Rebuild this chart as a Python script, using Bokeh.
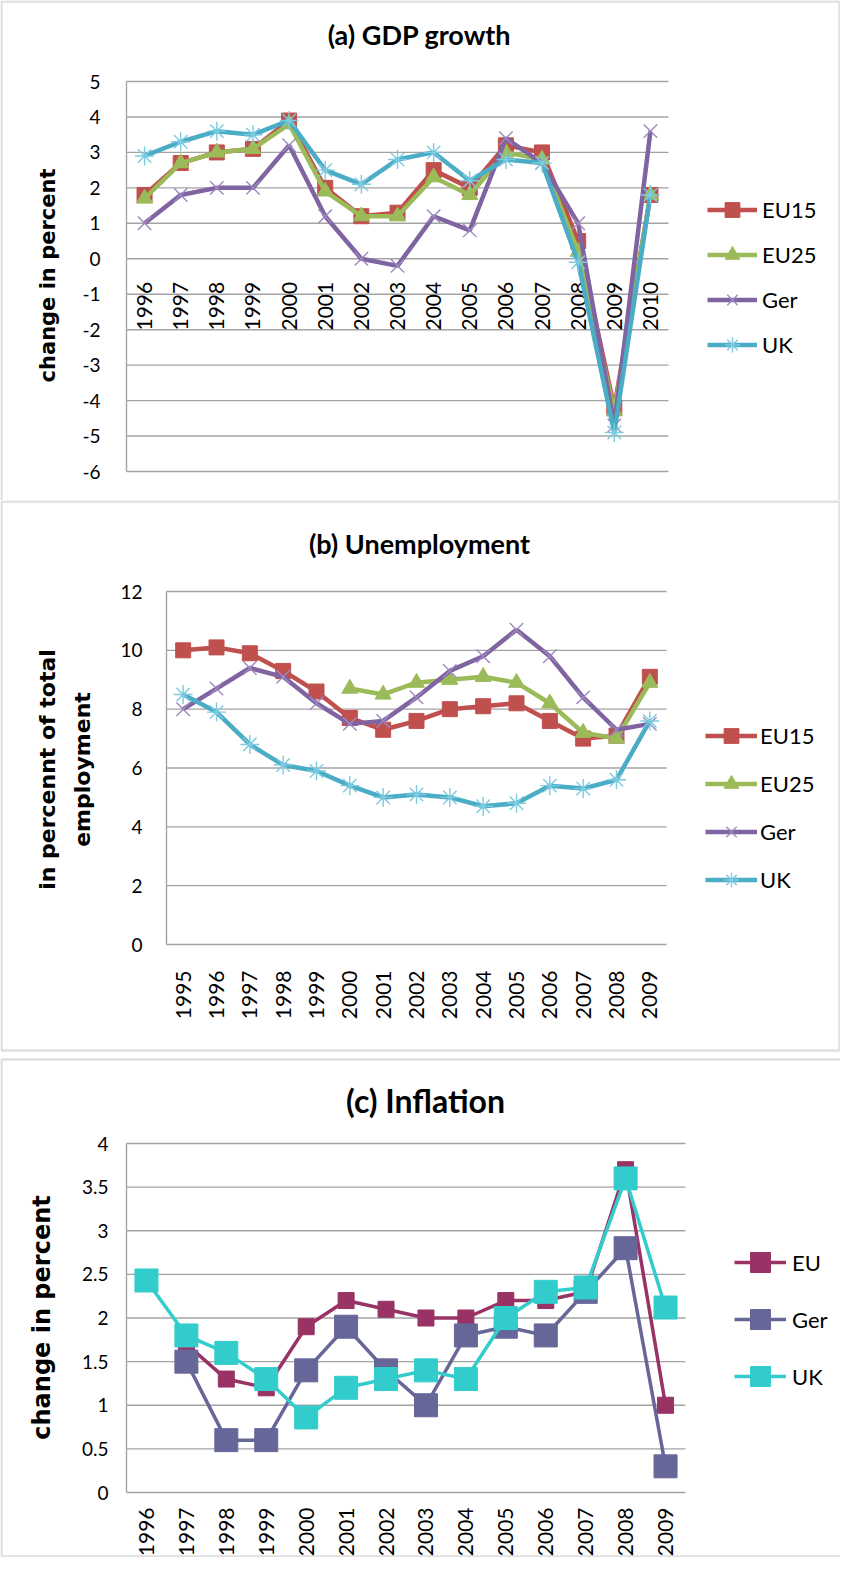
import math
from bokeh.plotting import figure
from bokeh.models import Range1d, Label, Legend, LegendItem, BoxAnnotation
from bokeh.layouts import column
from bokeh.core.properties import value
from bokeh.embed import file_html
from bokeh.resources import INLINE

nan = float("nan")

# ---------------- (a) GDP growth ----------------
gdp_years = ["1996", "1997", "1998", "1999", "2000", "2001", "2002", "2003",
             "2004", "2005", "2006", "2007", "2008", "2009", "2010"]
gdp_eu15 = [1.8, 2.7, 3.0, 3.1, 3.9, 2.0, 1.2, 1.3, 2.5, 2.0, 3.2, 3.0, 0.5, -4.2, 1.8]
gdp_eu25 = [1.7, 2.7, 3.0, 3.1, 3.8, 1.9, 1.2, 1.2, 2.3, 1.8, 3.0, 2.8, 0.2, -4.3, 1.8]
gdp_ger = [1.0, 1.8, 2.0, 2.0, 3.2, 1.2, 0.0, -0.2, 1.2, 0.8, 3.4, 2.7, 1.0, -4.7, 3.6]
gdp_uk = [2.9, 3.3, 3.6, 3.5, 3.9, 2.5, 2.1, 2.8, 3.0, 2.2, 2.8, 2.7, -0.1, -4.9, 1.8]
gdp_ticks = [-6, -5, -4, -3, -2, -1, 0, 1, 2, 3, 4, 5]
gdp_tick_labels = ["-6", "-5", "-4", "-3", "-2", "-1", "0", "1", "2", "3", "4", "5"]
gdp_axis_cross = 0

# ---------------- (b) Unemployment ----------------
un_years = ["1995", "1996", "1997", "1998", "1999", "2000", "2001", "2002",
            "2003", "2004", "2005", "2006", "2007", "2008", "2009"]
un_eu15 = [10.0, 10.1, 9.9, 9.3, 8.6, 7.7, 7.3, 7.6, 8.0, 8.1, 8.2, 7.6, 7.0, 7.1, 9.1]
un_eu25 = [nan, nan, nan, nan, nan, 8.7, 8.5, 8.9, 9.0, 9.1, 8.9, 8.2, 7.2, 7.0, 8.9]
un_ger = [8.0, 8.7, 9.4, 9.1, 8.2, 7.5, 7.6, 8.4, 9.3, 9.8, 10.7, 9.8, 8.4, 7.3, 7.5]
un_uk = [8.5, 7.9, 6.8, 6.1, 5.9, 5.4, 5.0, 5.1, 5.0, 4.7, 4.8, 5.4, 5.3, 5.6, 7.6]
un_ticks = [0, 2, 4, 6, 8, 10, 12]
un_tick_labels = ["0", "2", "4", "6", "8", "10", "12"]

# ---------------- (c) Inflation ----------------
inf_years = ["1996", "1997", "1998", "1999", "2000", "2001", "2002", "2003",
             "2004", "2005", "2006", "2007", "2008", "2009"]
inf_eu = [nan, 1.7, 1.3, 1.2, 1.9, 2.2, 2.1, 2.0, 2.0, 2.2, 2.2, 2.3, 3.7, 1.0]
inf_ger = [nan, 1.5, 0.6, 0.6, 1.4, 1.9, 1.4, 1.0, 1.8, 1.9, 1.8, 2.3, 2.8, 0.3]
inf_uk = [2.43, 1.8, 1.6, 1.3, 0.86, 1.2, 1.3, 1.4, 1.3, 2.0, 2.3, 2.35, 3.6, 2.12]
inf_ticks = [0, 0.5, 1, 1.5, 2, 2.5, 3, 3.5, 4]
inf_tick_labels = ["0", "0.5", "1", "1.5", "2", "2.5", "3", "3.5", "4"]

GRID = "#a3a3a3"
BORDER = "#999999"
FONT = "Lato"
YLAB_FONT = "DejaVu Sans"
W = 840


class Panel:
    """A figure whose frame is the whole canvas; the plot area is mapped by page geometry."""

    def __init__(self, page_y0, H, left, right, top, bottom, years, ylo, yhi):
        self.page_x0 = 8
        self.page_y0 = page_y0
        self.H = H
        self.left, self.right, self.top, self.bottom = left, right, top, bottom
        self.n = len(years)
        self.ylo, self.yhi = ylo, yhi
        self.bx = (right - left) / self.n
        self.by = (bottom - top) / (yhi - ylo)
        xr = Range1d(-(left - self.page_x0) / self.bx,
                     self.n + (self.page_x0 + W - right) / self.bx)
        yr = Range1d(ylo - (page_y0 + H - bottom) / self.by,
                     yhi + (top - page_y0) / self.by)
        p = figure(width=W, height=H, x_range=xr, y_range=yr,
                   x_axis_type=None, y_axis_type=None,
                   min_border=0, min_border_left=0, min_border_right=0,
                   min_border_top=0, min_border_bottom=0,
                   output_backend="svg", toolbar_location=None)
        p.outline_line_color = None
        p.background_fill_color = "white"
        p.border_fill_color = "white"
        self.p = p
        self.xs = [i + 0.5 for i in range(self.n)]

    def dx(self, px):
        return (px - self.left) / self.bx

    def dy(self, py):
        return self.yhi - (py - self.top) / self.by

    def grid(self, ticks, labels, standoff, size="19px"):
        p = self.p
        p.segment(x0=[0] * len(ticks), x1=[self.n] * len(ticks), y0=ticks, y1=ticks,
                  line_color=GRID, line_width=1.4)
        p.segment(x0=[0], x1=[0], y0=[self.ylo], y1=[self.yhi],
                  line_color=GRID, line_width=1.4)
        p.text(x=[0] * len(ticks), y=ticks, text=labels, x_offset=-standoff,
               text_align="right", text_baseline="middle",
               text_font=value(FONT), text_font_size=value(size), text_color="black")

    def xlabels(self, years, ycross, offset, size="21px"):
        self.p.text(x=self.xs, y=[ycross] * len(years), text=years, angle=math.pi / 2,
                    text_align="right", text_baseline="middle", y_offset=offset,
                    text_font=value(FONT), text_font_size=value(size), text_color="black")

    def label(self, px, py, text, size, font=FONT, angle=0.0, style="bold"):
        self.p.add_layout(Label(x=self.dx(px), y=self.dy(py), text=text,
                                text_align="center", text_baseline="middle", angle=angle,
                                text_font=font, text_font_style=style,
                                text_font_size=size, text_color="black"))

    def border(self, pl, pr, pt, pb):
        self.p.add_layout(BoxAnnotation(left=self.dx(pl), right=self.dx(pr),
                                        top=self.dy(pt), bottom=self.dy(pb),
                                        fill_color=None, fill_alpha=0,
                                        line_color=BORDER, line_width=2.5))

    def series(self, ys, color, marker, size, lw, mline=None, mlw=1.0):
        r1 = self.p.line(self.xs, ys, line_color=color, line_width=lw)
        r2 = self.p.scatter(self.xs, ys, marker=marker, size=size, fill_color=color,
                            line_color=mline if mline is not None else color,
                            line_width=mlw)
        return [r1, r2]

    def legend(self, items, page_left, page_bottom, gw, gh, spacing, standoff, size):
        loc = (page_left - self.page_x0, self.page_y0 + self.H - page_bottom)
        lg = Legend(items=items, location=loc, orientation="vertical",
                    glyph_width=gw, glyph_height=gh, spacing=spacing, padding=0,
                    margin=0, label_standoff=standoff, border_line_color=None,
                    background_fill_alpha=0, label_text_font=FONT,
                    label_text_font_size=size, label_text_color="black",
                    label_height=20)
        self.p.add_layout(lg)


C_EU15 = "#C0504D"
C_EU25 = "#9BBB59"
C_GER = "#8064A2"
C_UK = "#4BACC6"
M_GER = "#9D89C0"
M_UK = "#7CCBE0"

# ---------- panel (a) ----------
A = Panel(8, 500, 134, 676, 89, 479, gdp_years, -6, 5)
A.border(9, 847, 9, 515)
A.grid(gdp_ticks, gdp_tick_labels, 26)
A.xlabels(gdp_years, gdp_axis_cross, 23)
ra1 = A.series(gdp_eu15, C_EU15, "square", 15, 4.5)
ra2 = A.series(gdp_eu25, C_EU25, "triangle", 16, 4.5)
ra3 = A.series(gdp_ger, C_GER, "x", 19, 4.5, mline=M_GER, mlw=1.4)
ra4 = A.series(gdp_uk, C_UK, "asterisk", 19, 4.5, mline=M_UK, mlw=1.4)
A.legend([LegendItem(label="EU15", renderers=ra1),
          LegendItem(label="EU25", renderers=ra2),
          LegendItem(label="Ger", renderers=ra3),
          LegendItem(label="UK", renderers=ra4)],
         715, 370.5, 50, 37, 8, 5, "22px")
A.label(427, 42, "(a) GDP growth", "27px")
A.label(55, 283, "change in percent", "21px", font=YLAB_FONT, angle=math.pi / 2)

# ---------- panel (b) ----------
B = Panel(508, 552, 174, 674, 599, 952, un_years, 0, 12)
B.border(9, 847, 509, 1058)
B.grid(un_ticks, un_tick_labels, 24)
B.xlabels(un_years, un_ticks[0], 26)
rb1 = B.series(un_eu15, C_EU15, "square", 15, 4.5)
rb2 = B.series(un_eu25, C_EU25, "triangle", 16, 4.5)
rb3 = B.series(un_ger, C_GER, "x", 19, 4.5, mline=M_GER, mlw=1.4)
rb4 = B.series(un_uk, C_UK, "asterisk", 19, 4.5, mline=M_UK, mlw=1.4)
B.legend([LegendItem(label="EU15", renderers=rb1),
          LegendItem(label="EU25", renderers=rb2),
          LegendItem(label="Ger", renderers=rb3),
          LegendItem(label="UK", renderers=rb4)],
         713, 905.5, 52, 37, 11, 3, "22px")
B.label(427, 551, "(b) Unemployment", "27px")
B.label(55, 777, "in percennt of total", "22px", font=YLAB_FONT, angle=math.pi / 2)
B.label(90, 777, "employment", "22px", font=YLAB_FONT, angle=math.pi / 2)

# ---------- panel (c) ----------
C = Panel(1060, 505, 134, 693, 1151, 1500, inf_years, 0, 4)
C.border(9, 870, 1067, 1564)
C.grid(inf_ticks, inf_tick_labels, 18)
C.xlabels(inf_years, inf_ticks[0], 15)
rc1 = C.series(inf_eu, "#993366", "square", 16, 3.5)
rc2 = C.series(inf_ger, "#666699", "square", 23, 3.5)
rc3 = C.series(inf_uk, "#33CCCC", "square", 23, 3.5)
C.legend([LegendItem(label="EU", renderers=rc1),
          LegendItem(label="Ger", renderers=rc2),
          LegendItem(label="UK", renderers=rc3)],
         742, 1409, 52, 50, 7, 6, "22px")
C.label(433, 1108, "(c) Inflation", "32px")
C.label(49, 1325, "change in percent", "24px", font=YLAB_FONT, angle=math.pi / 2)

layout = column(A.p, B.p, C.p)
open("out.html", "w").write(file_html(layout, INLINE))
